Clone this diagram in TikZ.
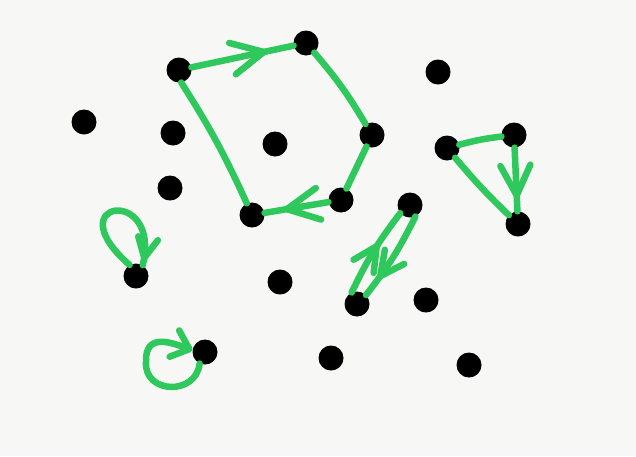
\documentclass[tikz,border=0pt]{standalone}
\usetikzlibrary{arrows.meta,decorations.markings}
\definecolor{pen}{RGB}{46,200,92}
\definecolor{paper}{RGB}{247,247,246}
\tikzset{
  dot/.style={circle,fill=black,draw=none,minimum size=25pt,inner sep=0pt},
  stroke/.style={draw=pen,line width=6.5pt,line cap=round,line join=round},
  chev/.style 2 args={postaction={decorate,decoration={markings,
     mark=at position #1 with {\arrow[pen]{Straight Barb[round,length=#2,width=#2]}}}}}
}
\begin{document}
\begin{tikzpicture}[x=1pt,y=-1pt]
\fill[paper] (0,0) rectangle (636,456);
\useasboundingbox (0,0) rectangle (636,456);
% dots
\node[dot] (a) at (179,70) {};
\node[dot] (b) at (306,43) {};
\node[dot] (c) at (372,135) {};
\node[dot] (d) at (341,200) {};
\node[dot] (e) at (252,215) {};
\node[dot] (f) at (447,148) {};
\node[dot] (g) at (514,135) {};
\node[dot] (h) at (518,224) {};
\node[dot] (i) at (410,205) {};
\node[dot] (j) at (357,304) {};
\node[dot] (k) at (136,276) {};
\node[dot] (l) at (205,352) {};
\node[dot] (m1) at (438,72) {};
\node[dot] (m2) at (84,122) {};
\node[dot] (m3) at (173,133) {};
\node[dot] (m4) at (275,144) {};
\node[dot] (m5) at (170,188) {};
\node[dot] (m6) at (280,282) {};
\node[dot] (m7) at (426,300) {};
\node[dot] (m8) at (331,358) {};
\node[dot] (m9) at (469,365) {};
% cycle
\draw[stroke,chev={0.74}{32pt}] (a) -- (b);
\draw[stroke] (b) to[bend left=5] (c);
\draw[stroke] (c) -- (d);
\draw[stroke,chev={0.7}{32pt}] (d) -- (e);
\draw[stroke] (e) to[bend right=4] (a.280);
% triangle
\draw[stroke] (f) to[bend left=4] (g);
\draw[stroke,chev={0.8}{30pt}] (g) -- (h);
\draw[stroke] (h) to[bend left=3] (f);
% double edge
\draw[stroke,chev={0.6}{24pt}] (j.115) to[bend left=6] (i.220);
\draw[stroke,chev={0.78}{24pt}] (i.295) to[bend left=6] (j.45);
% loop at k
\draw[stroke,chev={0.97}{20pt}] (k.120) .. controls (55,200) and (162,185) .. (k.58);
% loop at l
\draw[stroke,-{Straight Barb[round,length=16pt,width=28pt]}] (l.245) .. controls (196,396) and (144,394) .. (146,362)
   .. controls (145,333) and (170,342) .. (l.172);
\end{tikzpicture}
\end{document}
